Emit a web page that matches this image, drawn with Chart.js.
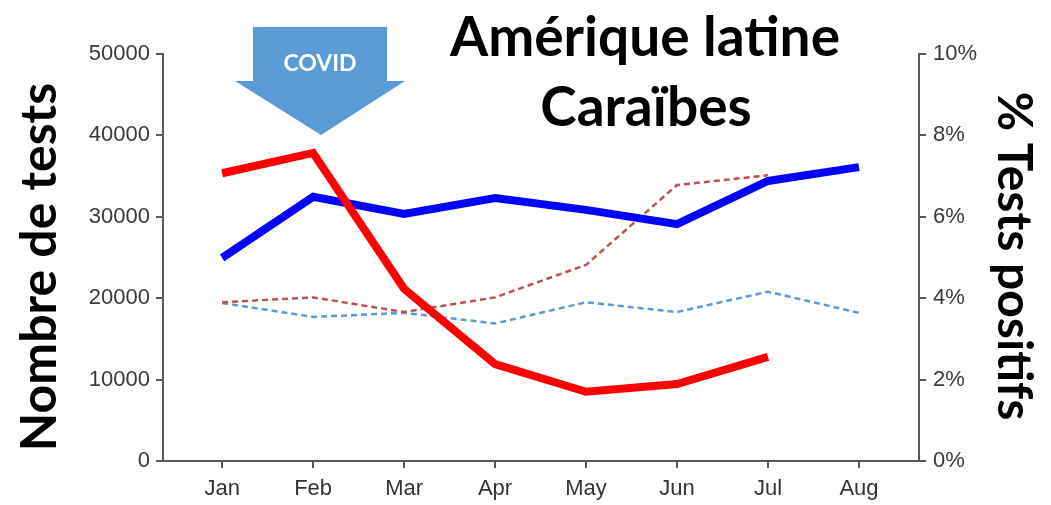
<!DOCTYPE html>
<html>
<head>
<meta charset="utf-8">
<script src="https://cdn.jsdelivr.net/npm/chart.js@4.4.0/dist/chart.umd.min.js"></script>
<style>
    html, body { margin: 0; padding: 0; background: #ffffff; }
    #chart { display: block; }
</style>
</head>
<body>
<canvas id="chart" width="1051" height="505"></canvas>
<script>
// months on the x axis
const months = ['Jan', 'Feb', 'Mar', 'Apr', 'May', 'Jun', 'Jul', 'Aug'];

// % positive tests (right axis)
const positive2020 = [7.07, 7.57, 4.23, 2.38, 1.70, 1.89, 2.56];
const positive2019 = [4.99, 6.49, 6.07, 6.46, 6.17, 5.82, 6.88, 7.22];

// number of tests (left axis)
const tests2020 = [19500, 20100, 18300, 20100, 24100, 33900, 35100];
const tests2019 = [19400, 17700, 18200, 16900, 19500, 18300, 20800, 18200];

const leftTicks = [0, 10000, 20000, 30000, 40000, 50000];
const rightTicks = [0, 2, 4, 6, 8, 10];

const toPoints = (values) => values.map((v, i) => ({ x: i, y: v }));

const axisColor = '#5a5a5a';
const tickFont = { family: "'Liberation Sans', Arial, sans-serif", size: 22 };

// title, COVID arrow and axis titles
const decorations = {
    id: 'decorations',
    afterDraw(chart) {
        const ctx = chart.ctx;
        ctx.save();

        // COVID arrow
        ctx.fillStyle = '#5b9bd5';
        ctx.beginPath();
        ctx.moveTo(253, 27);
        ctx.lineTo(387, 27);
        ctx.lineTo(387, 81);
        ctx.lineTo(405, 81);
        ctx.lineTo(321, 135);
        ctx.lineTo(235, 81);
        ctx.lineTo(253, 81);
        ctx.closePath();
        ctx.fill();
        ctx.fillStyle = '#ffffff';
        ctx.font = "bold 23px Lato, 'Open Sans', sans-serif";
        ctx.textAlign = 'center';
        ctx.textBaseline = 'alphabetic';
        ctx.fillText('COVID', 320, 71);

        // title
        ctx.fillStyle = '#000000';
        ctx.font = "bold 55px Lato, 'Open Sans', sans-serif";
        ctx.fillText('Amérique latine', 645, 56);
        ctx.fillText('Caraïbes', 646, 126);

        // left axis title
        ctx.font = "bold 50px Lato, 'Open Sans', sans-serif";
        ctx.save();
        ctx.translate(56, 267);
        ctx.rotate(-Math.PI / 2);
        ctx.fillText('Nombre de tests', 0, 0);
        ctx.restore();

        // right axis title
        ctx.font = "bold 48px Lato, 'Open Sans', sans-serif";
        ctx.save();
        ctx.translate(998, 256);
        ctx.rotate(Math.PI / 2);
        ctx.fillText('% Tests positifs', 0, 0);
        ctx.restore();

        ctx.restore();
    }
};

new Chart(document.getElementById('chart'), {
    type: 'line',
    data: {
        datasets: [
            {
                label: '% positifs 2020',
                data: toPoints(positive2020),
                yAxisID: 'yRight',
                borderColor: '#ff0000',
                borderWidth: 8,
                order: 1
            },
            {
                label: '% positifs 2019',
                data: toPoints(positive2019),
                yAxisID: 'yRight',
                borderColor: '#0000ff',
                borderWidth: 8,
                order: 2
            },
            {
                label: 'Tests 2020',
                data: toPoints(tests2020),
                yAxisID: 'yLeft',
                borderColor: '#c0504d',
                borderWidth: 2.5,
                borderDash: [6, 4],
                order: 3
            },
            {
                label: 'Tests 2019',
                data: toPoints(tests2019),
                yAxisID: 'yLeft',
                borderColor: '#5b9bd5',
                borderWidth: 2.5,
                borderDash: [6, 4],
                order: 4
            }
        ]
    },
    options: {
        responsive: false,
        animation: false,
        elements: {
            point: { radius: 0 },
            line: { tension: 0, fill: false }
        },
        layout: { padding: { top: 54, left: 0, right: 0, bottom: 0 } },
        plugins: {
            legend: { display: false },
            tooltip: { enabled: false }
        },
        scales: {
            x: {
                type: 'linear',
                min: -0.65,
                max: 7.66,
                afterFit: (scale) => { scale.height = 44; },
                border: { color: axisColor, width: 2 },
                grid: { drawOnChartArea: false, drawTicks: true, tickLength: 7, color: axisColor, lineWidth: 2 },
                ticks: {
                    stepSize: 1,
                    includeBounds: false,
                    autoSkip: false,
                    maxRotation: 0,
                    padding: 8,
                    color: '#333333',
                    font: tickFont,
                    callback: (value) => months[value] || ''
                }
            },
            yLeft: {
                type: 'linear',
                position: 'left',
                min: leftTicks[0],
                max: leftTicks[leftTicks.length - 1],
                afterFit: (scale) => { scale.width = 163; },
                afterBuildTicks: (scale) => { scale.ticks = leftTicks.map(v => ({ value: v })); },
                border: { color: axisColor, width: 2 },
                grid: { drawOnChartArea: false, drawTicks: true, tickLength: 7, color: axisColor, lineWidth: 2 },
                ticks: {
                    padding: 6,
                    color: '#3a3a3a',
                    font: tickFont,
                    callback: (value) => String(value)
                }
            },
            yRight: {
                type: 'linear',
                position: 'right',
                min: rightTicks[0],
                max: rightTicks[rightTicks.length - 1],
                afterFit: (scale) => { scale.width = 132; },
                afterBuildTicks: (scale) => { scale.ticks = rightTicks.map(v => ({ value: v })); },
                border: { color: axisColor, width: 2 },
                grid: { drawOnChartArea: false, drawTicks: true, tickLength: 7, color: axisColor, lineWidth: 2 },
                ticks: {
                    padding: 7,
                    color: '#3a3a3a',
                    font: tickFont,
                    callback: (value) => value + '%'
                }
            }
        }
    },
    plugins: [decorations]
});
</script>
</body>
</html>
